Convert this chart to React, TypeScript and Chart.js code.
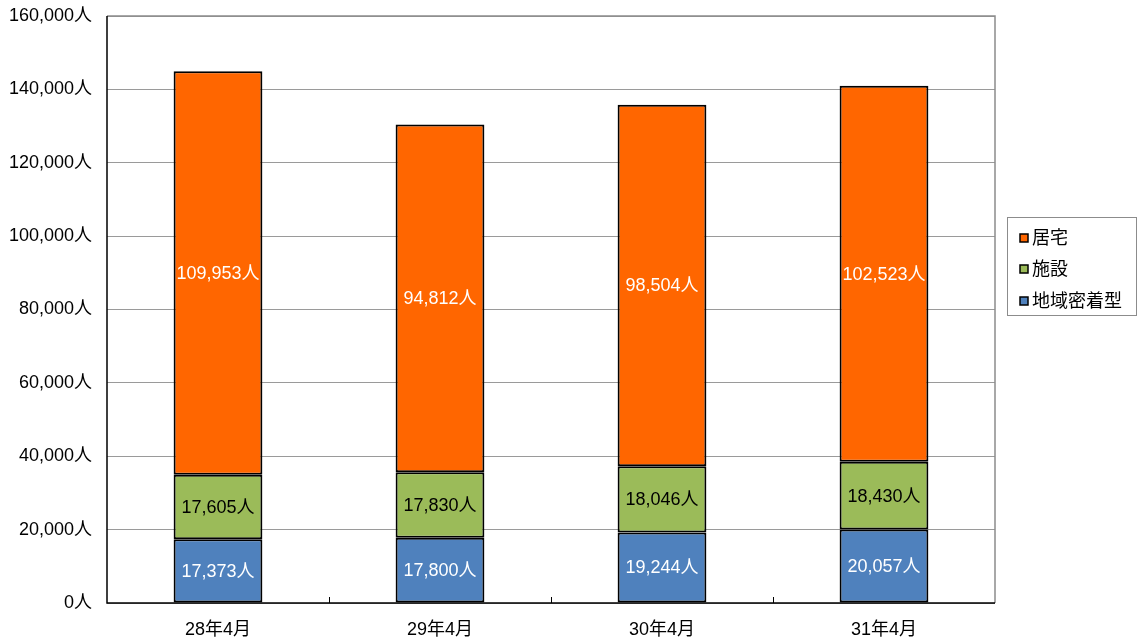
import React, { useEffect, useRef } from "react";
import { Chart, registerables } from "chart.js";

Chart.register(...registerables);

const categories = ["28年4月", "29年4月", "30年4月", "31年4月"];
const seriesLabels = ["地域密着型", "施設", "居宅"];
const chiikiValues = [17373, 17800, 19244, 20057];
const shisetsuValues = [17605, 17830, 18046, 18430];
const kyotakuValues = [109953, 94812, 98504, 102523];
const seriesColors = ["#4F81BD", "#9BBB59", "#FF6600"];
const labelColors = ["#ffffff", "#000000", "#ffffff"];
const yTickMax = 160000;
const yTickStep = 20000;

const FONT = '"Liberation Sans", Arial, "Noto Sans CJK JP", sans-serif';

const fmt = (v: number) => v.toLocaleString("en-US") + "人";

const framePlugin = {
  id: "frame",
  beforeDatasetsDraw(chart: any) {
    const { ctx, chartArea } = chart;
    const { left, right, top, bottom } = chartArea;
    ctx.save();
    ctx.strokeStyle = "#8c8c8c";
    ctx.lineWidth = 1.5;
    ctx.beginPath();
    ctx.moveTo(left, top);
    ctx.lineTo(right, top);
    ctx.lineTo(right, bottom);
    ctx.stroke();
    ctx.restore();
  },
  afterDatasetsDraw(chart: any) {
    const { ctx, chartArea } = chart;
    const { left, right, top, bottom } = chartArea;
    ctx.save();
    // axes
    ctx.strokeStyle = "#000";
    ctx.lineWidth = 1.5;
    ctx.beginPath();
    ctx.moveTo(left, top);
    ctx.lineTo(left, bottom);
    ctx.lineTo(right, bottom);
    ctx.stroke();
    // inward category ticks
    const n = categories.length;
    const w = (right - left) / n;
    ctx.lineWidth = 1;
    ctx.beginPath();
    for (let i = 1; i < n; i++) {
      const x = Math.round(left + i * w) + 0.5;
      ctx.moveTo(x, bottom);
      ctx.lineTo(x, bottom - 6);
    }
    ctx.stroke();

    // data labels
    ctx.font = `18px ${FONT}`;
    ctx.textAlign = "center";
    ctx.textBaseline = "middle";
    chart.data.datasets.forEach((ds: any, di: number) => {
      const meta = chart.getDatasetMeta(di);
      meta.data.forEach((bar: any, i: number) => {
        const y = (bar.y + bar.base) / 2;
        ctx.fillStyle = labelColors[di];
        ctx.fillText(fmt(ds.data[i]), bar.x, y + 1);
      });
    });

    // legend
    const lx = 1007, ly = 217, lw = 129, lh = 98;
    ctx.strokeStyle = "#8c8c8c";
    ctx.lineWidth = 1;
    ctx.strokeRect(lx + 0.5, ly + 0.5, lw, lh);
    const order = [2, 1, 0];
    const ys = [238, 269, 301];
    ctx.textAlign = "left";
    order.forEach((di, k) => {
      const y = ys[k];
      ctx.fillStyle = seriesColors[di];
      ctx.fillRect(1020, y - 4, 8, 8);
      ctx.strokeStyle = "#000";
      ctx.lineWidth = 1.5;
      ctx.strokeRect(1020, y - 4, 8, 8);
      ctx.fillStyle = "#000";
      ctx.fillText(chart.data.datasets[di].label, 1032, y + 1);
    });
    ctx.restore();
  },
};

export default function App() {
  const ref = useRef<HTMLCanvasElement | null>(null);
  useEffect(() => {
    document.body.style.margin = "0";
    const canvas = ref.current;
    if (!canvas) return;
    const values = [chiikiValues, shisetsuValues, kyotakuValues];
    const chart = new Chart(canvas, {
      type: "bar",
      data: {
        labels: categories,
        datasets: seriesLabels.map((label, i) => ({
          label,
          data: values[i],
          backgroundColor: seriesColors[i],
          borderColor: "#000",
          borderWidth: 2,
          borderSkipped: false,
          barPercentage: 0.4,
          categoryPercentage: 1,
        })),
      },
      options: {
        responsive: false,
        animation: false,
        layout: { padding: { left: 0, right: 144, top: 16, bottom: 0 } },
        plugins: {
          legend: { display: false },
          tooltip: { enabled: false },
        },
        scales: {
          x: {
            stacked: true,
            grid: { display: false },
            border: { display: false },
            ticks: {
              color: "#000",
              font: { size: 18, family: FONT },
              padding: 8,
              maxRotation: 0,
            },
            afterFit: (s: any) => {
              s.height = 39;
              s.paddingLeft = 0;
              s.paddingRight = 0;
            },
          },
          y: {
            stacked: true,
            min: 0,
            max: yTickMax,
            grid: {
              color: "#9a9a9a",
              lineWidth: 1,
              drawTicks: false,
            },
            border: { display: false },
            ticks: {
              stepSize: yTickStep,
              color: "#000",
              font: { size: 18, family: FONT },
              padding: 15,
              callback: (v: any) => fmt(Number(v)),
            },
            afterFit: (s: any) => {
              s.width = 107;
              s.paddingTop = 0;
              s.paddingBottom = 0;
            },
          },
        },
      },
      plugins: [framePlugin],
    });
    return () => chart.destroy();
  }, []);
  return (
    <div style={{ position: "absolute", left: 0, top: 0, width: 1139, height: 642, background: "#fff" }}>
      <canvas ref={ref} width={1139} height={642} />
    </div>
  );
}
